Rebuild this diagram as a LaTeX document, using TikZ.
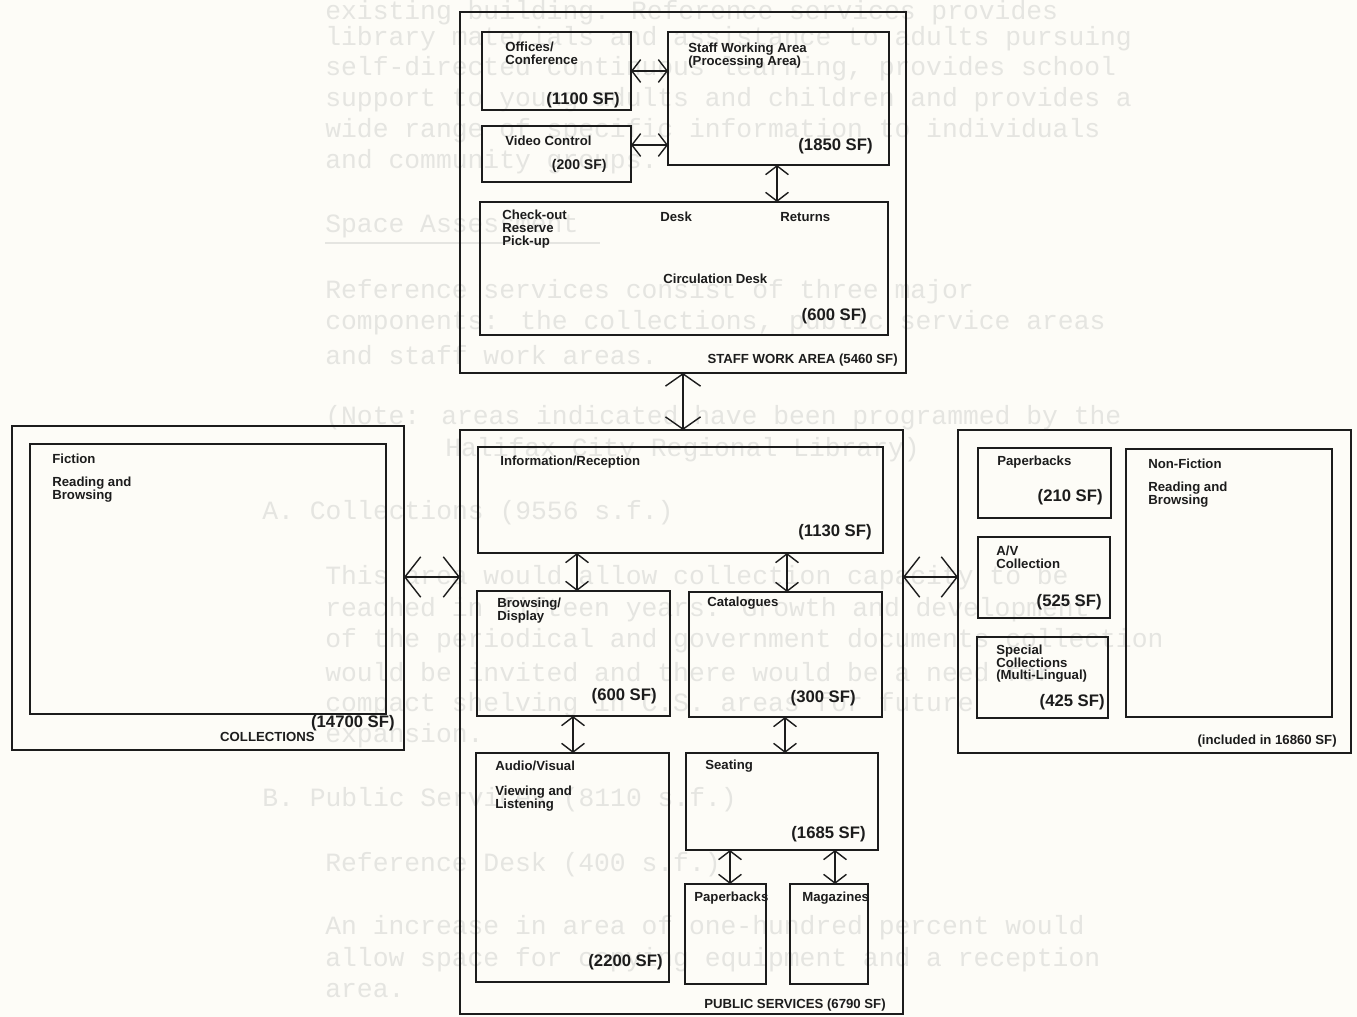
\documentclass[tikz,border=0pt]{standalone}
\usepackage{fontspec}
\setmainfont{Liberation Sans}
\newfontfamily\ghostfont{Liberation Mono}
\usetikzlibrary{arrows.meta}
\definecolor{ink}{RGB}{28,28,28}
\definecolor{paper}{RGB}{253,252,247}
\definecolor{ghost}{RGB}{229,229,225}
\newcommand\lblfont{\bfseries\fontsize{7.5}{7.1}\selectfont}
\newcommand\numfont{\bfseries\fontsize{9.5}{11}\selectfont}
\newcommand\smnumfont{\bfseries\fontsize{8}{9}\selectfont}
\newcommand\mkroom[5]{\node[room, minimum width={(#4-#2)*0.02cm}, minimum height={(#5-#3)*0.02cm}] (#1) at (#2,#3) {};}
\tikzset{
  room/.style={draw=ink, line width=1.1pt, inner sep=0pt, outer sep=0pt, anchor=north west},
  lbl/.style={font=\lblfont, text=ink, inner sep=0pt, align=left},
  num/.style={font=\numfont, text=ink, inner sep=0pt, anchor=east},
  gh/.style={font=\ghostfont\fontsize{15}{17}\selectfont, text=ghost, inner sep=0pt, anchor=west},
  arrs/.style={draw=ink, line width=0.8pt, {Straight Barb[length=5pt,width=13pt]}-{Straight Barb[length=5pt,width=13pt]}},
  arrm/.style={draw=ink, line width=0.8pt, {Straight Barb[length=7pt,width=20pt]}-{Straight Barb[length=7pt,width=20pt]}},
  arrl/.style={draw=ink, line width=0.8pt, {Straight Barb[length=9pt,width=23pt]}-{Straight Barb[length=9pt,width=23pt]}}
}
\begin{document}
\begin{tikzpicture}[x=0.02cm,y=-0.02cm]
\fill[paper] (0,0) rectangle (1357,1017);
\useasboundingbox (0,0) rectangle (1357,1017);

% ghost (bleed-through) text
\node[gh] (g1) at (325,13) {existing building.  Reference services provides};
\node[gh] (g2) at (325,39) {library materials and assistance to adults pursuing};
\node[gh] (g3) at (325,69) {self-directed continuous learning, provides school};
\node[gh] (g4) at (325,100) {support to young adults and children and provides a};
\node[gh] (g5) at (325,131) {wide range of specific information to individuals};
\node[gh] (g6) at (325,162) {and community groups.};
\node[gh] (g7) at (325,226) {Space Assessment};
\draw[ghost, line width=1pt] (g7.south west) ++(0,5) -- ++(275,0);
\node[gh] (g8) at (325,292) {Reference services consist of three major};
\node[gh] (g9) at (325,323) {components: the collections, public service areas};
\node[gh] (g10) at (325,355) {and staff work areas.};
\node[gh] (g11) at (325,418) {(Note:  areas indicated have been programmed by the};
\node[gh] (g12) at (445,450) {Halifax City Regional Library)};
\node[gh] (g13) at (262,513) {A.  Collections (9556 s.f.)};
\node[gh] (g14) at (325,578) {This area would allow collection capacity to be};
\node[gh] (g15) at (325,610) {reached in fifteen years.  Growth and development};
\node[gh] (g16) at (325,641) {of the periodical and government documents collection};
\node[gh] (g17) at (325,672) {would be invited and there would be a need for};
\node[gh] (g18) at (325,705) {compact shelving in C.S. areas for future};
\node[gh] (g19) at (325,736) {expansion.};
\node[gh] (g20) at (262,800) {B.  Public Services (8110 s.f.)};
\node[gh] (g21) at (325,865) {Reference Desk (400 s.f.)};
\node[gh] (g22) at (325,928) {An increase in area of one-hundred percent would};
\node[gh] (g23) at (325,960) {allow space for copying equipment and a reception};
\node[gh] (g24) at (325,991) {area.};

% ---- staff work area
\mkroom{swa}{460}{12}{906}{373}
\mkroom{off}{482}{32}{631}{110}
\mkroom{vid}{482}{126}{631}{182}
\mkroom{stw}{668}{32}{889}{165}
\mkroom{circ}{480}{202}{888}{335}

\node[lbl, anchor=north west] (toff) at (505,42) {Offices/\\Conference};
\node[num] (toffn) at (620,100) {(1100 SF)};
\node[lbl, anchor=west] (tvid) at (505,141) {Video Control};
\node[num, font=\smnumfont] (tvidn) at (607,166) {(200 SF)};
\node[lbl, anchor=north west] (tstw) at (688,43) {Staff Working Area\\(Processing Area)};
\node[num] (tstwn) at (873,146) {(1850 SF)};
\node[lbl, anchor=north west, font=\bfseries\fontsize{7.5}{7.4}\selectfont] (tco) at (502,210) {Check-out\\Reserve\\Pick-up};
\node[lbl, anchor=west] (tdesk) at (660,217) {Desk};
\node[lbl, anchor=west] (tret) at (780,217) {Returns};
\node[lbl, anchor=west] (tcirc) at (663,279) {Circulation Desk};
\node[num] (tcircn) at (867,316) {(600 SF)};
\node[lbl, anchor=east] (tswa) at (898,360) {STAFF WORK AREA (5460 SF)};

\draw[arrs] (off.east |- 0,71) -- (stw.west |- 0,71);
\draw[arrs] (vid.east |- 0,145) -- (stw.west |- 0,145);
\draw[arrs] (stw.south -| 777,0) -- (circ.north -| 777,0);

% ---- public services
\mkroom{ps}{460}{430}{903}{1014}
\mkroom{info}{478}{447}{883}{553}
\mkroom{brw}{477}{591}{670}{716}
\mkroom{cat}{689}{592}{882}{717}
\mkroom{av}{476}{753}{669}{982}
\mkroom{seat}{686}{753}{878}{850}
\mkroom{pbk}{685}{884}{766}{984}
\mkroom{mag}{790}{884}{868}{984}

\draw[arrm] (swa.south -| 683,0) -- (ps.north -| 683,0);

\node[lbl, anchor=west] (tinfo) at (500,462) {Information/Reception};
\node[num] (tinfon) at (872,532) {(1130 SF)};
\node[lbl, anchor=north west] (tbrw) at (497,598) {Browsing/\\Display};
\node[num] (tbrwn) at (657,696) {(600 SF)};
\node[lbl, anchor=west] (tcat) at (707,603) {Catalogues};
\node[num] (tcatn) at (856,698) {(300 SF)};
\node[lbl, anchor=west] (tav) at (495,766) {Audio/Visual};
\node[lbl, anchor=north west] (tav2) at (495,786) {Viewing and\\Listening};
\node[num] (tavn) at (663,962) {(2200 SF)};
\node[lbl, anchor=west] (tseat) at (705,766) {Seating};
\node[num] (tseatn) at (866,834) {(1685 SF)};
\node[lbl, anchor=west] (tpbk) at (694,898) {Paperbacks};
\node[lbl, anchor=west] (tmag) at (802,898) {Magazines};
\node[lbl, anchor=east] (tps) at (886,1005) {PUBLIC SERVICES (6790 SF)};

\draw[arrs] (info.south -| 577,0) -- (brw.north -| 577,0);
\draw[arrs] (info.south -| 787,0) -- (cat.north -| 787,0);
\draw[arrs] (brw.south -| 573,0) -- (av.north -| 573,0);
\draw[arrs] (cat.south -| 785,0) -- (seat.north -| 785,0);
\draw[arrs] (seat.south -| 730,0) -- (pbk.north -| 730,0);
\draw[arrs] (seat.south -| 835,0) -- (mag.north -| 835,0);

% ---- collections (fiction)
\mkroom{coll}{12}{426}{404}{750}
\mkroom{fic}{30}{444}{386}{714}
\node[lbl, anchor=west] (tfic) at (52,459) {Fiction};
\node[lbl, anchor=north west] (tfic2) at (52,477) {Reading and\\Browsing};
\node[num] (tcolln) at (395,723) {(14700 SF)};
\node[lbl, anchor=east] (tcoll) at (315,737) {COLLECTIONS};

% ---- collections (non-fiction)
\mkroom{nfo}{958}{430}{1351}{753}
\mkroom{pb2}{978}{448}{1111}{518}
\mkroom{avc}{978}{537}{1110}{618}
\mkroom{spc}{977}{637}{1108}{718}
\mkroom{nf}{1126}{449}{1332}{717}
\node[lbl, anchor=west] (tpb2) at (997,462) {Paperbacks};
\node[num] (tpb2n) at (1103,497) {(210 SF)};
\node[lbl, anchor=north west] (tavc) at (996,546) {A/V\\Collection};
\node[num] (tavcn) at (1102,602) {(525 SF)};
\node[lbl, anchor=north west] (tspc) at (996,645) {Special\\Collections\\(Multi-Lingual)};
\node[num] (tspcn) at (1105,702) {(425 SF)};
\node[lbl, anchor=west] (tnf) at (1148,464) {Non-Fiction};
\node[lbl, anchor=north west] (tnf2) at (1148,482) {Reading and\\Browsing};
\node[lbl, anchor=east] (tincl) at (1337,741) {(included in 16860 SF)};

\draw[arrl] (coll.east |- 0,577) -- (ps.west |- 0,577);
\draw[arrl] (ps.east |- 0,577) -- (nfo.west |- 0,577);
\end{tikzpicture}
\end{document}
